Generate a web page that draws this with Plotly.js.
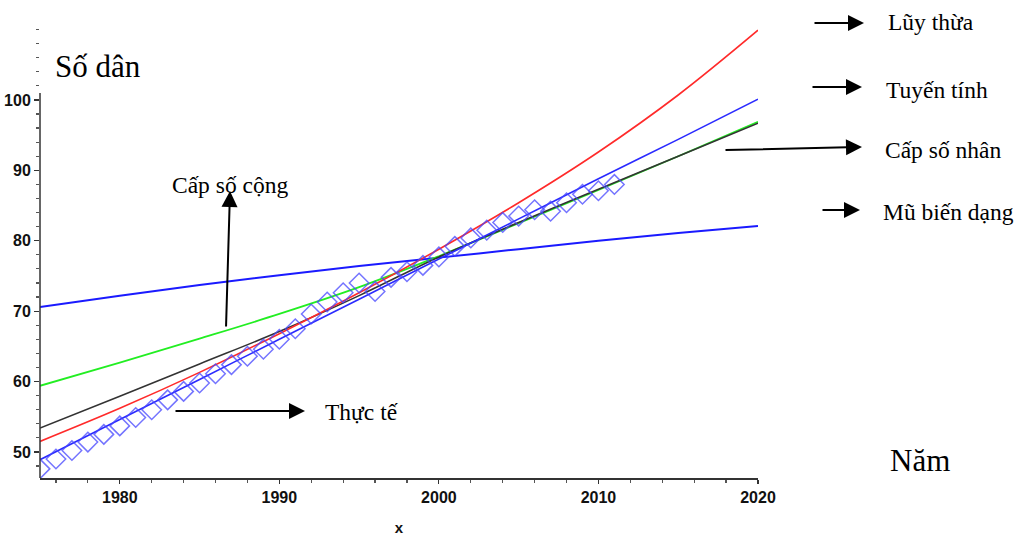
<!DOCTYPE html>
<html>
<head>
<meta charset="utf-8">
<script src="https://cdn.plot.ly/plotly-3.0.1.min.js"></script>
<style>html,body{margin:0;padding:0;background:#fff;}#chart{width:1021px;height:536px;}</style>
</head>
<body>
<div id="chart"></div>
<script>
// ---- data ----
const fitYears = [1975, 1980, 1985, 1990, 1995, 2000, 2005, 2010, 2015, 2020];
const powerFit = [51.5, 56.2, 61.3, 66.8, 72.6, 78.8, 85.4, 92.6, 100.7, 109.9];      // Lũy thừa (red)
const linearFit = [48.9, 54.6, 60.3, 66.0, 71.7, 77.4, 83.1, 88.8, 94.4, 100.1];     // Tuyến tính (blue)
const arithFit = [59.4, 62.7, 66.1, 69.6, 73.4, 77.8, 82.5, 87.2, 92.0, 96.9];       // Cấp số cộng (green)
const geomFit = [53.4, 57.9, 62.5, 67.1, 72.2, 77.7, 82.6, 87.3, 92.0, 96.7];        // Cấp số nhân (black)
const modExpFit = [70.6, 72.2, 73.7, 75.1, 76.4, 77.6, 78.8, 80.0, 81.1, 82.1];      // Mũ biến dạng (blue)

const actualYears = [1975,1976,1977,1978,1979,1980,1981,1982,1983,1984,1985,1986,1987,1988,1989,1990,
  1991,1992,1993,1994,1995,1996,1997,1998,1999,2000,2001,2002,2003,2004,2005,2006,2007,2008,2009,2010,2011];
const actualPop = [47.6,49.0,50.2,51.4,52.5,53.7,54.9,56.0,57.4,58.6,59.8,61.1,62.4,63.6,64.6,66.0,
  67.5,69.6,71.3,72.6,74.0,72.8,74.8,75.6,76.5,77.7,79.2,80.4,81.5,82.6,83.5,84.4,84.2,85.4,86.6,87.1,88.0];

const xTickVals = [1980, 1990, 2000, 2010, 2020];
const yTickVals = [50, 60, 70, 80, 90, 100];

// ---- helpers (pixel -> paper) ----
const L = 40, R = 758, T = 26, B = 478;
const px = x => (x - L) / (R - L);
const py = y => (B - y) / (B - T);

const lineStyle = (c, w) => ({color: c, width: w, shape: 'spline'});
const traces = [
  {x: fitYears, y: modExpFit, mode: 'lines', line: lineStyle('#1a1aff', 2), hoverinfo: 'skip'},
  {x: fitYears, y: arithFit, mode: 'lines', line: lineStyle('#22ee22', 1.8), hoverinfo: 'skip'},
  {x: fitYears, y: geomFit, mode: 'lines', line: lineStyle('#333333', 1.6), hoverinfo: 'skip'},
  {x: fitYears, y: powerFit, mode: 'lines', line: lineStyle('#ff2a2a', 1.6), hoverinfo: 'skip'},
  {x: fitYears, y: linearFit, mode: 'lines', line: lineStyle('#2a2aff', 1.6), hoverinfo: 'skip'},
  {x: actualYears, y: actualPop, mode: 'markers', hoverinfo: 'skip',
   marker: {symbol: 'diamond-open', size: 15, color: 'rgba(70,70,255,0.75)', line: {width: 1.5, color: 'rgba(70,70,255,0.75)'}}}
];

const serif = 'Liberation Serif, Times New Roman, serif';
const tickFont = {family: 'Liberation Sans, Arial', size: 16, color: '#111', weight: 'bold'};

function label(text, x, y, size) {
  return {text: text, xref: 'paper', yref: 'paper', x: px(x), y: py(y), xanchor: 'left', yanchor: 'middle',
          showarrow: false, font: {family: serif, size: size, color: '#000'}};
}
function arrow(x0, y0, x1, y1) {
  return {text: '', xref: 'paper', yref: 'paper', x: px(x1), y: py(y1), axref: 'pixel', ayref: 'pixel',
          ax: x0 - x1, ay: y0 - y1, showarrow: true, arrowhead: 2, arrowsize: 1.6, arrowwidth: 2, arrowcolor: '#000'};
}

const layout = {
  width: 1021, height: 536,
  margin: {l: L, r: 1021 - R, t: T, b: 536 - B, pad: 0},
  paper_bgcolor: '#fff', plot_bgcolor: '#fff',
  showlegend: false,
  xaxis: {
    range: [1975, 2020], tickvals: xTickVals, ticktext: xTickVals.map(String),
    showgrid: false, zeroline: false, showline: true, linecolor: '#333', linewidth: 1.5,
    ticks: 'outside', ticklen: 4, tickwidth: 1.2, tickcolor: '#333',
    minor: {dtick: 2, tick0: 1976, ticks: 'outside', ticklen: 3, tickcolor: '#555', showgrid: false},
    tickfont: tickFont,
    title: {text: 'x', font: {family: 'Liberation Sans, Arial', size: 15, color: '#111', weight: 'bold'}, standoff: 20}
  },
  yaxis: {
    range: [46.3, 110.5], tickvals: yTickVals, ticktext: yTickVals.map(String),
    showgrid: false, zeroline: false, showline: false,
    ticks: 'outside', ticklen: 5, tickwidth: 1.2, tickcolor: '#333',
    minor: {dtick: 2, tick0: 48, ticks: 'outside', ticklen: 3, tickcolor: '#555', showgrid: false},
    tickfont: tickFont
  },
  shapes: [
    {type: 'line', xref: 'paper', yref: 'y', x0: 0, x1: 0, y0: 46.3, y1: 101, line: {color: '#333', width: 1.5}}
  ],
  annotations: [
    label('Số dân', 53, 66, 31),
    label('Lũy thừa', 886, 22, 23.5),
    label('Tuyến tính', 884, 90, 23.5),
    label('Cấp số nhân', 883, 150, 23.5),
    label('Mũ biến dạng', 881, 212, 23.5),
    label('Cấp số cộng', 170, 185, 23.5),
    label('Thực tế', 323, 412, 23.5),
    label('Năm', 888, 460, 31),
    arrow(813, 23, 864, 23),
    arrow(811, 87, 862, 87),
    arrow(724, 150, 862, 147),
    arrow(821, 210, 860, 210),
    arrow(226, 328, 230, 191),
    arrow(174, 411, 305, 411)
  ]
};

Plotly.newPlot('chart', traces, layout, {displayModeBar: false, staticPlot: true});
</script>
</body>
</html>
